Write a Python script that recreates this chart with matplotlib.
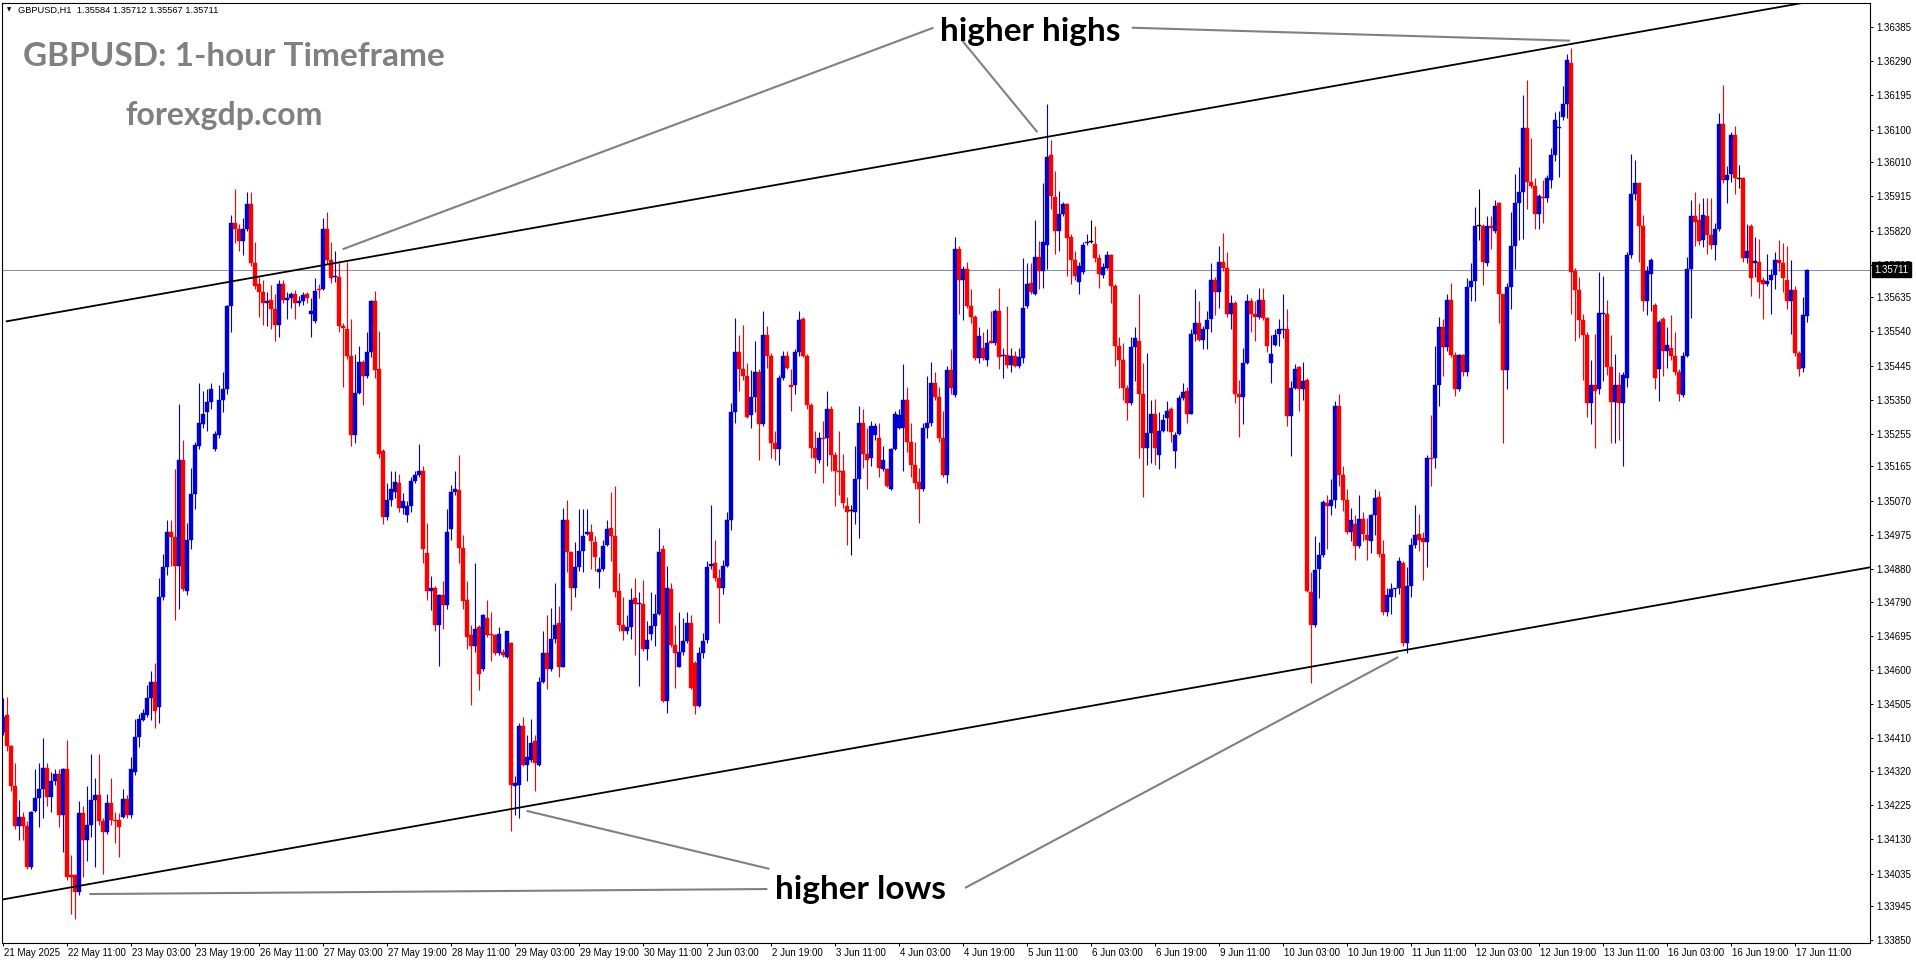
"""GBPUSD H1 chart with rising channel: higher highs / higher lows."""

import matplotlib

matplotlib.use("Agg")
import matplotlib.pyplot as plt
import matplotlib.transforms as mtransforms
import numpy as np

W, H = 1916, 964

# hourly candles 21 May 19:00 .. 17 Jun 14:00, in points (1e-5) above 1.30000
BASE, POINT = 1.3, 1e-5

open_pts = [
    4427, 4474, 4388, 4277, 4166, 4192, 4166, 4052, 4209, 4246, 4269, 4328, 4248, 4291, 4311, 4197, 4325, 4031, 4030, 3983,
    4202, 4129, 4171, 4240, 4252, 4180, 4151, 4231, 4185, 4185, 4192, 4243, 4197, 4317, 4414, 4462, 4475, 4521, 4568, 4496,
    4803, 4885, 4983, 4969, 4889, 5182, 4820, 4960, 5089, 5222, 5282, 5316, 5345, 5213, 5251, 5350, 5379, 5611, 5842, 5825,
    5790, 5825, 5893, 5731, 5671, 5649, 5620, 5627, 5601, 5558, 5671, 5628, 5632, 5644, 5618, 5623, 5644, 5589, 5568, 5657,
    5657, 5825, 5739, 5691, 5691, 5555, 5546, 5473, 5251, 5370, 5456, 5415, 5483, 5623, 5435, 5208, 5025, 5073, 5094, 5119,
    5051, 5029, 5056, 5124, 5141, 5153, 4926, 4820, 4829, 4726, 4807, 4781, 4991, 5094, 5099, 4940, 4795, 4696, 4667, 4718,
    4602, 4744, 4701, 4696, 4646, 4650, 4636, 4675, 4277, 4282, 4445, 4337, 4351, 4402, 4337, 4568, 4646, 4603, 4687, 4730,
    4607, 5017, 4928, 4829, 4885, 4931, 4978, 4983, 4954, 4872, 4880, 4948, 4995, 4971, 4820, 4726, 4709, 4718, 4800, 4783,
    4783, 4658, 4701, 4721, 4755, 4935, 4513, 4825, 4670, 4607, 4650, 4680, 4731, 4619, 4499, 4646, 4684, 4889, 4897, 4855,
    4829, 4889, 5017, 5316, 5483, 5435, 5415, 5307, 5358, 5427, 5282, 5529, 5473, 5230, 5213, 5410, 5473, 5392, 5392, 5483,
    5575, 5473, 5336, 5217, 5182, 5244, 5244, 5324, 5196, 5153, 5153, 5056, 5042, 5039, 5131, 5285, 5200, 5188, 5251, 5244,
    5159, 5159, 5102, 5213, 5273, 5273, 5350, 5234, 5170, 5123, 5102, 5273, 5285, 5398, 5358, 5244, 5141, 5432, 5364, 5768,
    5683, 5714, 5611, 5580, 5466, 5495, 5461, 5512, 5509, 5597, 5473, 5475, 5447, 5473, 5444, 5466, 5611, 5674, 5644, 5746,
    5709, 5780, 6030, 5913, 5820, 5866, 5893, 5802, 5738, 5678, 5705, 5785, 5789, 5782, 5743, 5697, 5717, 5751, 5666, 5500,
    5461, 5384, 5341, 5498, 5512, 5367, 5217, 5259, 5310, 5196, 5264, 5299, 5324, 5208, 5256, 5355, 5375, 5312, 5534, 5563,
    5517, 5546, 5575, 5683, 5649, 5734, 5717, 5589, 5620, 5367, 5358, 5452, 5623, 5589, 5580, 5628, 5577, 5452, 5503, 5533,
    5543, 5546, 5304, 5384, 5440, 5381, 5406, 4817, 4726, 4880, 4919, 5063, 5056, 5073, 5333, 5141, 5073, 4983, 5005, 4943,
    5020, 4974, 4957, 5029, 5080, 4923, 4760, 4803, 4824, 4829, 4897, 4675, 4834, 4948, 4978, 4966, 4954, 5188, 5188, 5392,
    5551, 5498, 5628, 5475, 5381, 5475, 5427, 5662, 5679, 5833, 5833, 5731, 5833, 5820, 5896, 5644, 5432, 5662, 5777, 5896,
    5927, 6105, 5956, 5944, 5866, 5913, 5910, 5961, 6030, 6105, 6135, 6170, 6286, 5709, 5654, 5572, 5529, 5341, 5392, 5381,
    5589, 5589, 5440, 5345, 5392, 5341, 5410, 5751, 5922, 5951, 5832, 5623, 5700, 5614, 5435, 5575, 5486, 5495, 5473, 5427,
    5364, 5473, 5712, 5859, 5849, 5794, 5859, 5808, 5780, 5825, 6115, 5961, 5978, 6084, 5965, 5965, 5743, 5833, 5729, 5734,
    5683, 5671, 5683, 5697, 5739, 5731, 5683, 5623, 5654, 5481, 5439, 5584,
]
high_pts = [
    4521, 4526, 4393, 4342, 4240, 4205, 4180, 4209, 4325, 4342, 4410, 4342, 4317, 4325, 4325, 4328, 4405, 4086, 4035, 4236,
    4223, 4277, 4368, 4299, 4368, 4188, 4257, 4299, 4205, 4202, 4270, 4253, 4359, 4465, 4479, 4491, 4559, 4598, 4619, 4855,
    4923, 5017, 5017, 5159, 5338, 5239, 5008, 5162, 5234, 5396, 5375, 5381, 5398, 5264, 5392, 5427, 5614, 5862, 5936, 5837,
    5854, 5927, 5927, 5789, 5691, 5683, 5649, 5669, 5644, 5683, 5683, 5649, 5649, 5654, 5637, 5649, 5649, 5632, 5688, 5671,
    5854, 5871, 5789, 5763, 5734, 5563, 5734, 5575, 5478, 5500, 5461, 5538, 5627, 5652, 5541, 5213, 5119, 5153, 5153, 5145,
    5090, 5068, 5136, 5153, 5227, 5165, 5008, 4860, 4834, 4812, 4846, 5046, 5114, 5153, 5196, 4974, 4846, 4726, 4897, 4726,
    4755, 4795, 4760, 4701, 4718, 4658, 4709, 4679, 4305, 4453, 4470, 4419, 4465, 4419, 4581, 4709, 4752, 4772, 4841, 4778,
    5051, 5073, 4931, 4954, 5046, 5046, 5046, 5005, 4971, 4914, 4960, 5017, 5094, 5111, 4868, 4803, 4752, 4829, 4855, 4817,
    4851, 4735, 4817, 4812, 4995, 4948, 4889, 4841, 4726, 4760, 4744, 4760, 4752, 4624, 4663, 4704, 4902, 5059, 4960, 4880,
    4906, 5039, 5341, 5577, 5529, 5558, 5452, 5432, 5512, 5435, 5597, 5555, 5481, 5264, 5418, 5486, 5486, 5435, 5490, 5597,
    5580, 5478, 5341, 5264, 5261, 5290, 5375, 5333, 5205, 5264, 5200, 5080, 5059, 5222, 5333, 5324, 5273, 5290, 5285, 5285,
    5222, 5162, 5217, 5319, 5324, 5449, 5387, 5285, 5234, 5162, 5285, 5415, 5456, 5427, 5387, 5319, 5444, 5490, 5802, 5777,
    5722, 5734, 5657, 5586, 5551, 5538, 5546, 5597, 5601, 5661, 5495, 5611, 5495, 5486, 5495, 5743, 5729, 5729, 5849, 5790,
    5951, 6170, 6071, 5985, 5931, 5900, 5896, 5811, 5763, 5734, 5789, 5811, 5849, 5832, 5756, 5729, 5763, 5756, 5671, 5524,
    5507, 5392, 5524, 5551, 5644, 5452, 5481, 5350, 5353, 5316, 5312, 5346, 5329, 5261, 5364, 5398, 5387, 5546, 5657, 5623,
    5555, 5597, 5729, 5691, 5777, 5814, 5760, 5640, 5623, 5404, 5495, 5644, 5632, 5623, 5661, 5661, 5580, 5529, 5546, 5575,
    5644, 5603, 5401, 5449, 5444, 5456, 5410, 4872, 4971, 4954, 5073, 5085, 5131, 5346, 5367, 5165, 5102, 5051, 5029, 5085,
    5039, 5022, 5034, 5102, 5097, 4960, 4829, 4841, 4829, 4914, 4902, 4885, 4966, 5059, 5034, 4983, 5196, 5307, 5500, 5580,
    5575, 5644, 5674, 5483, 5478, 5478, 5688, 5729, 5884, 5936, 5837, 5859, 5859, 5905, 5900, 5645, 5674, 5871, 5978, 5995,
    6195, 6238, 6076, 5965, 5922, 5961, 5973, 6050, 6149, 6153, 6221, 6310, 6327, 5717, 5691, 5589, 5538, 5461, 5534, 5705,
    5695, 5628, 5529, 5478, 5427, 5427, 5760, 6033, 6016, 5951, 5862, 5722, 5743, 5618, 5572, 5580, 5551, 5586, 5538, 5435,
    5483, 5746, 5905, 5927, 5896, 5910, 5910, 5910, 5842, 6147, 6224, 5999, 6093, 6110, 6002, 5968, 5837, 5837, 5802, 5797,
    5691, 5756, 5712, 5760, 5794, 5785, 5777, 5739, 5666, 5486, 5635, 5712,
]
low_pts = [
    4419, 4376, 4265, 4159, 4129, 4129, 4048, 4048, 4205, 4163, 4188, 4223, 4205, 4282, 4163, 4094, 4018, 3924, 3910, 3975,
    4026, 4069, 4137, 4052, 4171, 4035, 4146, 4171, 4120, 4082, 4188, 4188, 4188, 4308, 4385, 4458, 4470, 4462, 4439, 4453,
    4795, 4863, 4889, 4740, 4769, 4820, 4807, 4935, 5046, 5213, 5273, 5264, 5324, 5208, 5244, 5316, 5367, 5538, 5785, 5763,
    5751, 5820, 5722, 5657, 5580, 5558, 5555, 5546, 5512, 5524, 5620, 5575, 5606, 5575, 5611, 5614, 5620, 5524, 5563, 5632,
    5654, 5726, 5674, 5678, 5538, 5387, 5464, 5222, 5230, 5367, 5336, 5410, 5469, 5410, 5188, 5005, 5017, 5056, 5077, 5039,
    5034, 5012, 5039, 5119, 5136, 4897, 4795, 4766, 4709, 4612, 4714, 4769, 4960, 5085, 4897, 4769, 4658, 4504, 4650, 4544,
    4598, 4692, 4624, 4641, 4641, 4636, 4632, 4154, 4197, 4188, 4334, 4291, 4345, 4265, 4334, 4564, 4547, 4598, 4675, 4581,
    4607, 4872, 4766, 4803, 4875, 4872, 4974, 4880, 4875, 4829, 4875, 4943, 4902, 4803, 4709, 4684, 4701, 4687, 4641, 4556,
    4653, 4629, 4684, 4667, 4752, 4510, 4482, 4663, 4550, 4607, 4641, 4675, 4547, 4479, 4496, 4632, 4675, 4880, 4846, 4731,
    4812, 4885, 4988, 5285, 5375, 5404, 5299, 5273, 5316, 5182, 5278, 5439, 5188, 5182, 5170, 5404, 5435, 5319, 5367, 5473,
    5469, 5324, 5188, 5148, 5176, 5119, 5165, 5153, 5056, 5085, 5051, 4948, 4919, 5005, 4966, 5162, 5102, 5165, 5239, 5136,
    5153, 5107, 5099, 5210, 5268, 5153, 5205, 5136, 5102, 5008, 5097, 5244, 5278, 5350, 5234, 5136, 5119, 5367, 5358, 5589,
    5572, 5606, 5563, 5461, 5452, 5461, 5444, 5507, 5503, 5435, 5410, 5439, 5427, 5440, 5439, 5452, 5606, 5644, 5640, 5657,
    5661, 5712, 5879, 5756, 5763, 5859, 5695, 5671, 5683, 5645, 5700, 5780, 5785, 5734, 5661, 5688, 5712, 5620, 5444, 5384,
    5350, 5295, 5336, 5401, 5188, 5080, 5170, 5176, 5170, 5159, 5261, 5264, 5234, 5162, 5251, 5350, 5285, 5312, 5512, 5512,
    5490, 5490, 5538, 5586, 5606, 5709, 5580, 5546, 5341, 5247, 5282, 5449, 5538, 5512, 5575, 5572, 5483, 5398, 5500, 5500,
    5521, 5278, 5193, 5381, 5319, 5350, 4817, 4564, 4718, 4800, 4914, 4937, 5029, 5051, 5111, 5042, 4978, 4957, 4906, 4940,
    4957, 4906, 4926, 4974, 4914, 4752, 4749, 4755, 4803, 4812, 4667, 4646, 4803, 4940, 4931, 4851, 4885, 5111, 5162, 5333,
    5415, 5486, 5469, 5362, 5375, 5415, 5415, 5623, 5623, 5794, 5669, 5722, 5768, 5814, 5563, 5230, 5381, 5603, 5712, 5794,
    5797, 5879, 5939, 5825, 5825, 5842, 5900, 5939, 6012, 5968, 6127, 6132, 5589, 5512, 5521, 5404, 5302, 5282, 5217, 5367,
    5401, 5418, 5230, 5230, 5239, 5165, 5387, 5743, 5905, 5734, 5597, 5586, 5597, 5381, 5346, 5415, 5439, 5461, 5418, 5346,
    5358, 5469, 5577, 5777, 5780, 5773, 5756, 5768, 5739, 5820, 5951, 5896, 5956, 5922, 5939, 5734, 5729, 5637, 5691, 5632,
    5575, 5666, 5589, 5657, 5709, 5649, 5603, 5534, 5473, 5415, 5427, 5567,
]
close_pts = [
    4470, 4388, 4277, 4166, 4192, 4166, 4052, 4205, 4246, 4269, 4328, 4248, 4291, 4311, 4197, 4325, 4026, 4026, 3983, 4202,
    4129, 4171, 4240, 4252, 4180, 4151, 4231, 4183, 4180, 4163, 4243, 4197, 4325, 4414, 4465, 4482, 4521, 4568, 4487, 4803,
    4885, 4983, 4969, 4889, 5182, 4824, 4960, 5089, 5225, 5285, 5310, 5345, 5379, 5256, 5350, 5379, 5611, 5842, 5825, 5790,
    5825, 5893, 5731, 5666, 5649, 5620, 5623, 5601, 5558, 5671, 5628, 5632, 5644, 5620, 5623, 5640, 5632, 5597, 5652, 5654,
    5825, 5739, 5688, 5695, 5555, 5550, 5473, 5251, 5370, 5456, 5415, 5483, 5623, 5432, 5200, 5025, 5073, 5102, 5123, 5051,
    5068, 5056, 5124, 5141, 5153, 4935, 4820, 4829, 4726, 4807, 4781, 4983, 5094, 5102, 4940, 4791, 4692, 4667, 4714, 4590,
    4752, 4697, 4697, 4646, 4701, 4641, 4709, 4282, 4287, 4445, 4337, 4359, 4398, 4342, 4568, 4646, 4603, 4687, 4726, 4607,
    5017, 4928, 4829, 4885, 4931, 4971, 4983, 4957, 4914, 4880, 4943, 4991, 4971, 4817, 4726, 4709, 4718, 4795, 4783, 4786,
    4658, 4684, 4721, 4755, 4928, 4513, 4829, 4670, 4646, 4650, 4680, 4731, 4550, 4499, 4646, 4680, 4885, 4894, 4855, 4829,
    4889, 5017, 5316, 5483, 5435, 5415, 5302, 5358, 5427, 5282, 5529, 5473, 5230, 5213, 5410, 5473, 5439, 5387, 5483, 5572,
    5473, 5336, 5217, 5188, 5244, 5241, 5324, 5196, 5153, 5150, 5063, 5039, 5042, 5131, 5285, 5200, 5182, 5278, 5278, 5162,
    5182, 5111, 5213, 5312, 5307, 5350, 5234, 5170, 5119, 5102, 5273, 5285, 5398, 5358, 5244, 5141, 5432, 5384, 5768, 5683,
    5714, 5611, 5580, 5466, 5526, 5466, 5509, 5509, 5597, 5469, 5475, 5447, 5473, 5444, 5469, 5606, 5671, 5649, 5746, 5709,
    5789, 6025, 5917, 5820, 5866, 5893, 5799, 5738, 5695, 5722, 5780, 5789, 5789, 5743, 5700, 5720, 5751, 5666, 5500, 5461,
    5384, 5341, 5498, 5521, 5367, 5217, 5259, 5310, 5217, 5264, 5295, 5319, 5261, 5252, 5355, 5372, 5312, 5534, 5563, 5517,
    5546, 5572, 5683, 5649, 5734, 5717, 5589, 5618, 5367, 5358, 5452, 5623, 5589, 5580, 5628, 5577, 5500, 5478, 5529, 5546,
    5546, 5304, 5384, 5435, 5381, 5401, 4820, 4726, 4877, 4919, 5065, 5056, 5073, 5333, 5141, 5073, 4983, 5017, 4943, 5020,
    4978, 4960, 5029, 5077, 4923, 4760, 4807, 4824, 4829, 4902, 4675, 4834, 4948, 4974, 4960, 4954, 5188, 5185, 5392, 5551,
    5498, 5628, 5475, 5381, 5475, 5427, 5662, 5679, 5833, 5833, 5734, 5833, 5828, 5888, 5644, 5432, 5662, 5777, 5896, 5927,
    6105, 5956, 5944, 5866, 5917, 5910, 5965, 6030, 6127, 6106, 6170, 6293, 5705, 5654, 5572, 5529, 5341, 5392, 5375, 5592,
    5592, 5440, 5345, 5392, 5341, 5418, 5751, 5922, 5951, 5832, 5623, 5709, 5739, 5410, 5567, 5486, 5503, 5473, 5427, 5367,
    5473, 5712, 5859, 5845, 5790, 5862, 5808, 5780, 5825, 6115, 5961, 5973, 6084, 5965, 5965, 5743, 5763, 5688, 5736, 5678,
    5671, 5679, 5697, 5739, 5731, 5688, 5623, 5654, 5481, 5435, 5586, 5711,
]

date_labels = [
    "21 May 2025", "22 May 11:00", "23 May 03:00", "23 May 19:00", "26 May 11:00",
    "27 May 03:00", "27 May 19:00", "28 May 11:00", "29 May 03:00", "29 May 19:00",
    "30 May 11:00", "2 Jun 03:00", "2 Jun 19:00", "3 Jun 11:00", "4 Jun 03:00",
    "4 Jun 19:00", "5 Jun 11:00", "6 Jun 03:00", "6 Jun 19:00", "9 Jun 11:00",
    "10 Jun 03:00", "10 Jun 19:00", "11 Jun 11:00", "12 Jun 03:00", "12 Jun 19:00",
    "13 Jun 11:00", "16 Jun 03:00", "16 Jun 19:00", "17 Jun 11:00",
]
BARS_PER_LABEL = 16

price_labels = [
    "1.36385", "1.36290", "1.36195", "1.36100", "1.36010", "1.35915", "1.35820",
    "1.35725", "1.35635", "1.35540", "1.35445", "1.35350", "1.35255", "1.35165",
    "1.35070", "1.34975", "1.34880", "1.34790", "1.34695", "1.34600", "1.34505",
    "1.34410", "1.34320", "1.34225", "1.34130", "1.34035", "1.33945", "1.33850",
]
last_price = 1.35711
header = "GBPUSD,H1  1.35584 1.35712 1.35567 1.35711"

# trendline anchors as (bar index, price)
upper_channel = [(0.92, 1.35568), (449.5, 1.36451)]
lower_channel = [(-0.08, 1.33963), (466.75, 1.34885)]
pointer_lines = [
    [(84.9, 1.35768), (232.6, 1.36383)],
    [(239.6, 1.36350), (258.6, 1.36093)],
    [(282.2, 1.36383), (391.75, 1.36347)],
    [(21.6, 1.33978), (191.1, 1.33992)],
    [(130.9, 1.34209), (191.6, 1.34048)],
    [(240.5, 1.33995), (348.8, 1.34636)],
]

BULL, BEAR, DOJI = "#0000d2", "#ff0000", "#000000"
BOLD_FONT = ["Lato", "DejaVu Sans"]
AXIS_FONT = ["Liberation Sans", "DejaVu Sans"]


def fig_xy(px, py):
    """Pixel position in the 1916x964 canvas -> figure fraction."""
    return px / W, 1 - py / H


o = BASE + np.array(open_pts) * POINT
h = BASE + np.array(high_pts) * POINT
l = BASE + np.array(low_pts) * POINT
c = BASE + np.array(close_pts) * POINT
idx = np.arange(len(c))
colors = np.where(c > o, BULL, np.where(c < o, BEAR, DOJI))

fig = plt.figure(figsize=(W / 100, H / 100), dpi=100)
fig.patch.set_facecolor("white")
ax = fig.add_axes([2.3 / W, 1 - 942.7 / H, (1870 - 2.3) / W, (942.7 - 2.5) / H])
ax.set_xlim(-0.175, 466.75)
ax.set_ylim(1.33843, 1.36453)

ax.axhline(last_price, color="#8494a8", lw=0.75, zorder=1)

ax.vlines(idx, l, h, colors=colors, lw=0.8, zorder=2)
body = np.abs(c - o)
shown = np.maximum(body, 3.2e-5)
ax.bar(idx, shown, bottom=np.minimum(o, c) - (shown - body) / 2, width=0.8,
       color=colors, edgecolor=colors, lw=0.3, zorder=3)

for (x0, y0), (x1, y1) in (upper_channel, lower_channel):
    ax.plot([x0, x1], [y0, y1], color="black", lw=1.3, zorder=4)
for (x0, y0), (x1, y1) in pointer_lines:
    ax.plot([x0, x1], [y0, y1], color="#808080", lw=1.5, zorder=4,
            solid_capstyle="butt")

# axes like the terminal: prices on the right, dates under the plot
ax.yaxis.tick_right()
ax.set_yticks([float(p) for p in price_labels])
ax.set_yticklabels(price_labels, family=AXIS_FONT)
ax.tick_params(axis="y", direction="out", length=1.8, width=0.7, pad=2.8,
               labelsize=7, colors="black")
ax.set_xticks(np.arange(len(date_labels)) * BARS_PER_LABEL)
ax.set_xticklabels(date_labels, ha="left", family=AXIS_FONT)
ax.tick_params(axis="x", direction="out", length=2.2, width=0.7, pad=1.4,
               labelsize=7)
shift = mtransforms.ScaledTranslation(1 / 100, 0, fig.dpi_scale_trans)
for lbl in ax.get_xticklabels():
    lbl.set_transform(lbl.get_transform() + shift)
for sp in ax.spines.values():
    sp.set_color("black")
    sp.set_linewidth(0.8)

ax.text(1.0 + 4 / 1867.7, last_price, f"{last_price:.5f}",
        transform=mtransforms.blended_transform_factory(ax.transAxes, ax.transData),
        ha="left", va="center", color="white", fontsize=7, family=AXIS_FONT,
        clip_on=False, zorder=6,
        bbox=dict(boxstyle="square,pad=0.25", fc="black", ec="black"))

fig.text(*fig_xy(7, 10), "\u25bc", fontsize=4, va="center")
fig.text(*fig_xy(18, 10.5), header, fontsize=6.7, family=AXIS_FONT, va="center")

fig.text(*fig_xy(23, 66.4), "GBPUSD: 1-hour Timeframe", fontsize=24,
         family=BOLD_FONT, weight="bold", color="#808080", va="baseline")
fig.text(*fig_xy(125, 124.8), "forexgdp.com", fontsize=23,
         family=BOLD_FONT, weight="bold", color="#808080", va="baseline")
fig.text(*fig_xy(940, 41), "higher highs", fontsize=24,
         family=BOLD_FONT, weight="bold", color="black", va="baseline")
fig.text(*fig_xy(775, 898.8), "higher lows", fontsize=24,
         family=BOLD_FONT, weight="bold", color="black", va="baseline")

fig.savefig("out.png", dpi=100)
